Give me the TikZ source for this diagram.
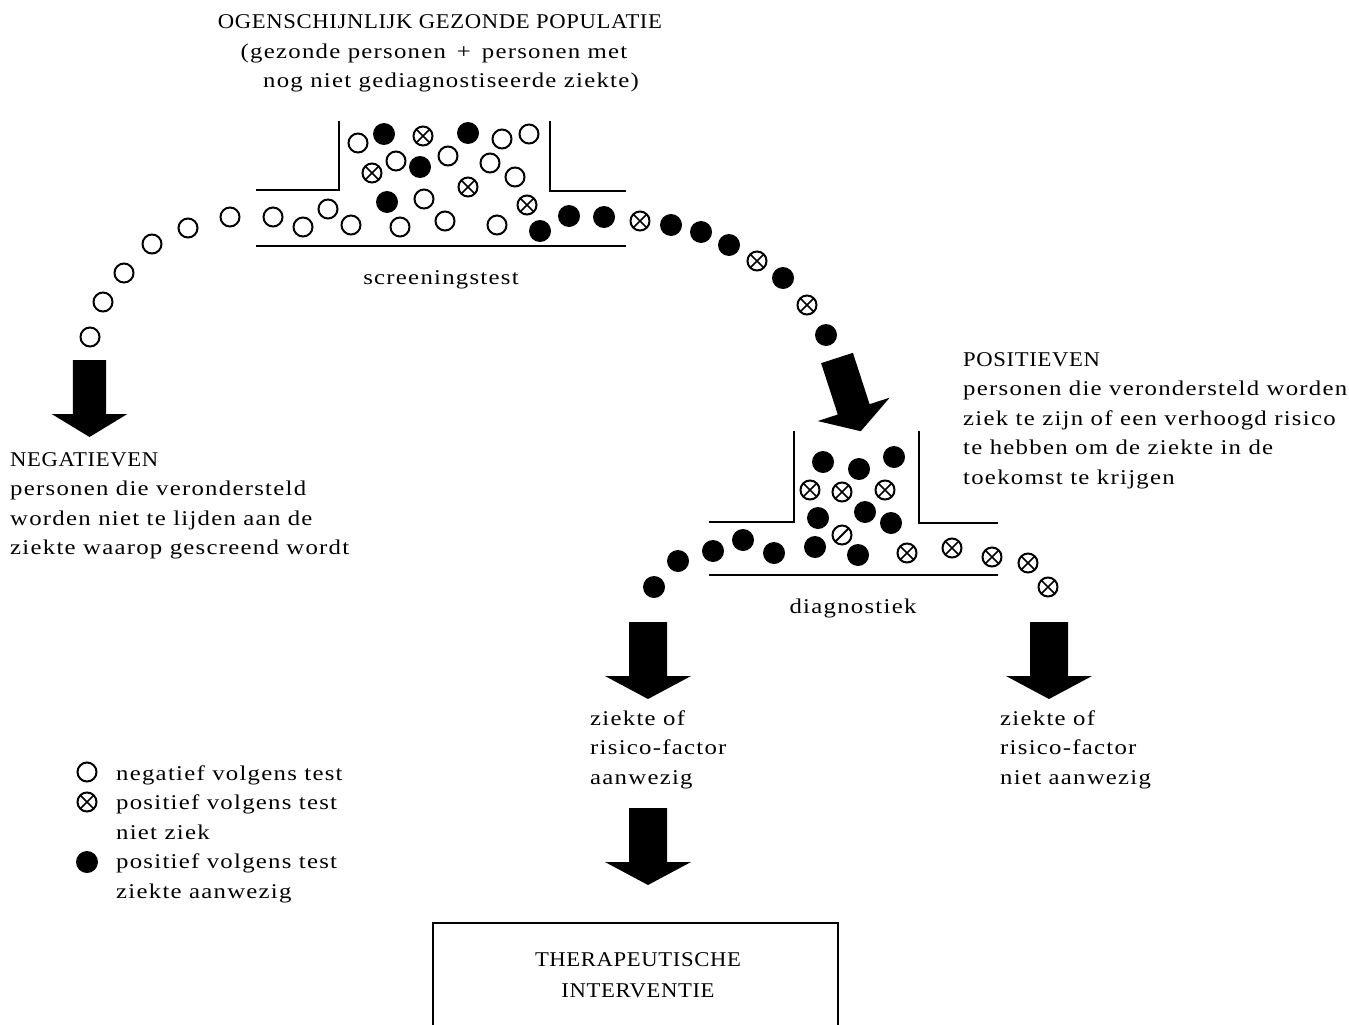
\documentclass[tikz,border=0pt]{standalone}
\usepackage{fontspec}
\setmainfont{Liberation Serif}[FakeStretch=1.18,LetterSpace=6]
\newfontfamily\capsfont{Liberation Serif}[FakeStretch=1.08,LetterSpace=3]
\begin{document}
\begin{tikzpicture}[x=1pt,y=-1pt,
  txt/.style={font=\fontsize{21}{29.5}\selectfont, inner sep=0pt, align=left},
  ctxt/.style={font=\fontsize{21}{29.5}\selectfont, inner sep=0pt, align=center},
  funnel/.style={line width=2.6pt},
  oc/.pic={\draw[line width=2pt] (0,0) circle[radius=9.5pt];},
  xc/.pic={\draw[line width=2pt] (0,0) circle[radius=9.5pt];
           \draw[line width=1.7pt] (-6.4,-6.4) -- (6.4,6.4) (-6.4,6.4) -- (6.4,-6.4);},
  sc/.pic={\draw[line width=2pt] (0,0) circle[radius=9.5pt];
           \draw[line width=2pt] (-6.4,6.4) -- (6.4,-6.4);},
  fc/.pic={\fill (0,0) circle[radius=11pt];},
  bigarrow/.pic={\fill (-19,0) -- (19,0) -- (19,54) -- (43,54) -- (0,77) -- (-43,54) -- (-19,54) -- cycle;}
]
\useasboundingbox (0,0) rectangle (1349,1025);

% ---- texts (anchor base = baseline of the last line)
\node[ctxt, anchor=base] (title1) at (440,29) {\capsfont OGENSCHIJNLIJK GEZONDE POPULATIE};
\node[ctxt, anchor=base] (title2) at (434,58.5) {(gezonde personen \,+\, personen met};
\node[ctxt, anchor=base] (title3) at (451,88) {nog niet gediagnostiseerde ziekte)};
\node[ctxt, anchor=base] (screen) at (441,284) {screeningstest};
\node[txt, anchor=base west] (pos) at (963,484) {{\capsfont POSITIEVEN}\\personen die verondersteld worden\\ziek te zijn of een verhoogd risico\\te hebben om de ziekte in de\\toekomst te krijgen};
\node[txt, anchor=base west] (neg) at (10,554.5) {{\capsfont NEGATIEVEN}\\personen die verondersteld\\worden niet te lijden aan de\\ziekte waarop gescreend wordt};
\node[ctxt, anchor=base] (diag) at (853,613) {diagnostiek};
\node[txt, anchor=base west] (yes) at (590,784) {ziekte of\\risico-factor\\aanwezig};
\node[txt, anchor=base west] (no) at (1000,784) {ziekte of\\risico-factor\\niet aanwezig};
\node[txt, anchor=base west] (legend) at (116,898) {negatief volgens test\\positief volgens test\\niet ziek\\positief volgens test\\ziekte aanwezig};
\node[ctxt, anchor=base, font=\fontsize{21}{31}\selectfont\capsfont] (ther) at (638,997) {THERAPEUTISCHE\\INTERVENTIE};
\draw[line width=2pt] (433,1030) -- (433,923) -- (838,923) -- (838,1030);

% ---- screening funnel
\draw[funnel] (256,190) -- (339,190) -- (339,121);
\draw[funnel] (550,121) -- (550,191) -- (626,191);
\draw[funnel] (256,246) -- (626,246);

% circles in screening funnel
\foreach \p in {(358,143),(502,139),(529,134),(396,161),(448,156),(490,163),(515,177),(424,199),
                (273,217),(303,227),(328,209),(351,225),(400,227),(445,221),(497,225)}
  \pic at \p {oc};
\foreach \p in {(423,136),(372,173),(468,187),(527,205)}
  \pic at \p {xc};
\foreach \p in {(384,134),(468,133),(420,167),(387,202),(540,231),(569,216),(604,217)}
  \pic at \p {fc};

% left arc (negatives)
\foreach \p in {(230,217),(188,228),(152,244),(124,273),(103,302),(90,337)}
  \pic at \p {oc};

% right arc (positives)
\foreach \p in {(671,225),(701,232),(729,245),(783,278),(826,335)}
  \pic at \p {fc};
\foreach \p in {(640,221),(757,261),(807,305)}
  \pic at \p {xc};

% ---- arrows
\pic[xscale=0.88] (arrneg) at (89.5,360) {bigarrow};
\pic[rotate=18, xscale=0.88] (arrpos) at (837,358) {bigarrow};
\pic (arryes) at (648,622) {bigarrow};
\pic (arrno) at (1049,622) {bigarrow};
\pic (arrther) at (648,808) {bigarrow};

% ---- diagnostiek funnel
\draw[funnel] (709,522) -- (794,522) -- (794,431);
\draw[funnel] (919,431) -- (919,523) -- (998,523);
\draw[funnel] (709,575) -- (998,575);

\foreach \p in {(823,462),(859,469),(894,457),(865,512),(818,518),(891,523),(815,547),(858,555),
                (713,551),(743,540),(774,553),(678,561),(654,587)}
  \pic at \p {fc};
\foreach \p in {(810,490),(842,492),(885,490),(907,553),(952,548),(992,557),(1028,563),(1048,587)}
  \pic at \p {xc};
\pic at (842,535) {sc};

% ---- legend symbols
\pic at (87,772) {oc};
\pic at (87,802) {xc};
\pic at (87,862) {fc};
\end{tikzpicture}
\end{document}
